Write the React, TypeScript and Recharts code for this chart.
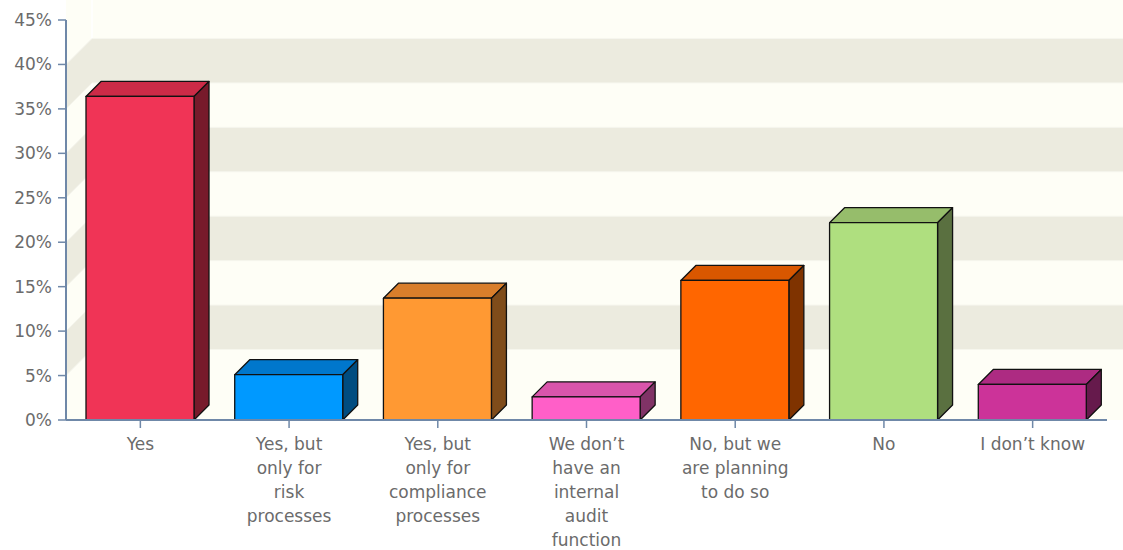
import React from "react";
import { BarChart, Bar, XAxis, YAxis, ReferenceArea } from "recharts";

const categories = [
  "Yes",
  "Yes, but\nonly for\nrisk\nprocesses",
  "Yes, but\nonly for\ncompliance\nprocesses",
  "We don’t\nhave an\ninternal\naudit\nfunction",
  "No, but we\nare planning\nto do so",
  "No",
  "I don’t know",
];
const shares = [36.4, 5.1, 13.7, 2.6, 15.7, 22.2, 4.0];
const yTicks = [0, 5, 10, 15, 20, 25, 30, 35, 40, 45];
const wallBands: Array<[number, number]> = [
  [5, 10],
  [15, 20],
  [25, 30],
  [35, 40],
];

// front / top / side faces
const palette = [
  ["#f03456", "#cc2b47", "#771a2b"],
  ["#0099ff", "#0077cc", "#004c80"],
  ["#ff9933", "#d97e2b", "#7f4c1a"],
  ["#ff5fc8", "#d955ab", "#803366"],
  ["#ff6600", "#d95700", "#7f3300"],
  ["#afdf7f", "#96bd6b", "#5a7040"],
  ["#cc3399", "#ad2b82", "#661a4c"],
];

const data = categories.map((name, i) => ({ name, value: shares[i] }));

const DEPTH = 15;
const WALL = 26;
const CREAM = "#fefef6";
const BEIGE = "#ecebdf";
const AXIS = "#6f88a8";
const TEXT = "#6b6b6b";
const FONT = "'DejaVu Sans', Verdana, sans-serif";

const Box3D = (props: any) => {
  const { x, y, width, height, index } = props;
  const [front, top, side] = palette[index % palette.length];
  const r = x + width;
  const b = y + height;
  return (
    <g stroke="#111" strokeWidth={1.3} strokeLinejoin="round">
      <path
        d={`M${x},${y} L${x + DEPTH},${y - DEPTH} L${r + DEPTH},${y - DEPTH} L${r},${y} Z`}
        fill={top}
      />
      <path
        d={`M${r},${y} L${r + DEPTH},${y - DEPTH} L${r + DEPTH},${b - DEPTH} L${r},${b} Z`}
        fill={side}
      />
      <rect x={x} y={y} width={width} height={height} fill={front} />
    </g>
  );
};

const wallShape = (fill: string, full: boolean) => (props: any) => {
  const { x, y, width, height } = props;
  const right = x + width + 40;
  const top = full ? 0 : y - WALL;
  const bottom = y + height;
  if (full) {
    return (
      <g>
        <rect x={x} y={top} width={right - x} height={bottom - top} fill={fill} />
        <line
          x1={x + WALL}
          y1={top}
          x2={x + WALL}
          y2={bottom - WALL}
          stroke="#ffffff"
          strokeWidth={1.5}
        />
      </g>
    );
  }
  return (
    <path
      d={`M${x},${y} L${x + WALL},${y - WALL} L${right},${y - WALL} L${right},${bottom - WALL} L${x + WALL},${bottom - WALL} L${x},${bottom} Z`}
      fill={fill}
      stroke="#f6f6ee"
      strokeWidth={1}
    />
  );
};

const CategoryTick = (props: any) => {
  const { x, y, payload } = props;
  const lines = String(payload.value).split("\n");
  return (
    <text
      x={x}
      y={y}
      textAnchor="middle"
      fill={TEXT}
      fontSize={17}
      fontFamily={FONT}
    >
      {lines.map((line, i) => (
        <tspan key={i} x={x} dy={i === 0 ? 20 : 24}>
          {line}
        </tspan>
      ))}
    </text>
  );
};

export default function App() {
  return (
    <div style={{ position: "absolute", left: 0, top: 0, background: "#fff" }}>
      <BarChart
        width={1123}
        height={550}
        data={data}
        margin={{ top: 20, right: 16, bottom: 0, left: 0 }}
        barSize={108}
      >
        <ReferenceArea
          y1={0}
          y2={45}
          ifOverflow="visible"
          shape={wallShape(CREAM, true)}
        />
        {wallBands.map(([a, b]) => (
          <ReferenceArea
            key={a}
            y1={a}
            y2={b}
            ifOverflow="visible"
            shape={wallShape(BEIGE, false)}
          />
        ))}
        <XAxis
          dataKey="name"
          interval={0}
          tick={<CategoryTick />}
          tickSize={8}
          axisLine={{ stroke: AXIS, strokeWidth: 2 }}
          tickLine={{ stroke: AXIS, strokeWidth: 1.5 }}
          height={130}
        />
        <YAxis
          domain={[0, 45]}
          ticks={yTicks}
          width={66}
          tickFormatter={(v: number) => `${v}%`}
          tickSize={8}
          tickMargin={6}
          axisLine={{ stroke: AXIS, strokeWidth: 2 }}
          tickLine={{ stroke: AXIS, strokeWidth: 1.5 }}
          tick={{ fill: TEXT, fontSize: 17, fontFamily: FONT }}
        />
        <Bar dataKey="value" shape={<Box3D />} isAnimationActive={false} />
      </BarChart>
    </div>
  );
}
